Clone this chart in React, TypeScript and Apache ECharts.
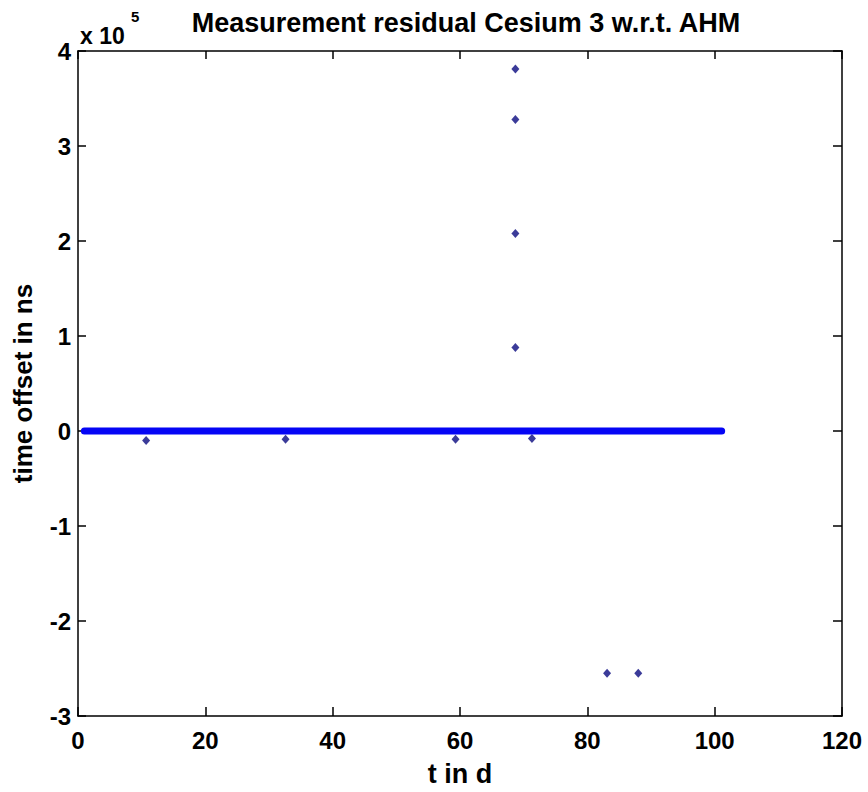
import React, { useEffect, useRef } from "react";
import * as echarts from "echarts";

const titleText = "Measurement residual Cesium 3 w.r.t. AHM";
const xName = "t in d";
const yName = "time offset in ns";
const xTicks = [0, 20, 40, 60, 80, 100, 120];
const yTicks = [-3, -2, -1, 0, 1, 2, 3, 4];
const yScale = 1e5;

// dense band of residuals near zero (drawn as one thick run)
const bandT = [1.0, 101.1];
const bandV = [0, 0];

// outlier residuals
const outT = [10.7, 32.6, 59.3, 68.7, 68.7, 68.7, 68.7, 71.3, 83.1, 88.0];
const outV = [-10000, -8600, -8600, 381000, 328000, 208000, 88000, -8000, -255000, -255000];

const FONT = "Liberation Sans, Arial, sans-serif";

export default function App() {
  const ref = useRef<HTMLDivElement>(null);
  useEffect(() => {
    document.body.style.margin = "0";
    const chart = echarts.init(ref.current!, null, { renderer: "svg" });
    const xMin = xTicks[0];
    const xMax = xTicks[xTicks.length - 1];
    const yMin = yTicks[0] * yScale;
    const yMax = yTicks[yTicks.length - 1] * yScale;
    const axisLine = { show: true, onZero: false, lineStyle: { color: "#000", width: 1.5 } };
    const tickIn = (len: number) => ({ show: true, inside: true, length: len, lineStyle: { color: "#000", width: 1.5 } });
    chart.setOption({
      animation: false,
      backgroundColor: "#ffffff",
      title: {
        text: titleText,
        left: 461,
        top: 4,
        textAlign: "center",
        textStyle: { fontFamily: FONT, fontWeight: "bold", fontSize: 27, color: "#000" },
      },
      graphic: [
        {
          type: "text",
          left: 80,
          top: 24,
          style: { text: "x 10", fontFamily: FONT, fontWeight: "bold", fontSize: 23, fill: "#000" },
        },
        {
          type: "text",
          left: 131,
          top: 9,
          style: { text: "5", fontFamily: FONT, fontWeight: "bold", fontSize: 15, fill: "#000" },
        },
      ],
      grid: { left: 78, right: 26, top: 51, bottom: 67, containLabel: false },
      xAxis: [
        {
          type: "value",
          min: xMin,
          max: xMax,
          interval: 20,
          position: "bottom",
          name: xName,
          nameLocation: "middle",
          nameGap: 44,
          nameTextStyle: { fontFamily: FONT, fontWeight: "bold", fontSize: 27, color: "#000" },
          axisLine,
          axisTick: tickIn(9),
          axisLabel: { margin: 12, fontFamily: FONT, fontWeight: "bold", fontSize: 24, color: "#000" },
          splitLine: { show: false },
        },
        {
          type: "value",
          min: xMin,
          max: xMax,
          interval: 20,
          position: "top",
          axisLine,
          axisTick: tickIn(8),
          axisLabel: { show: false },
          splitLine: { show: false },
        },
      ],
      yAxis: [
        {
          type: "value",
          min: yMin,
          max: yMax,
          interval: yScale,
          position: "left",
          name: yName,
          nameLocation: "middle",
          nameGap: 42,
          nameRotate: 90,
          nameTextStyle: { fontFamily: FONT, fontWeight: "bold", fontSize: 26, color: "#000" },
          axisLine,
          axisTick: tickIn(8),
          axisLabel: {
            margin: 7,
            fontFamily: FONT,
            fontWeight: "bold",
            fontSize: 24,
            color: "#000",
            formatter: (v: number) => String(Math.round(v / yScale)),
          },
          splitLine: { show: false },
        },
        {
          type: "value",
          min: yMin,
          max: yMax,
          interval: yScale,
          position: "right",
          axisLine,
          axisTick: tickIn(9),
          axisLabel: { show: false },
          splitLine: { show: false },
        },
      ],
      series: [
        {
          type: "line",
          xAxisIndex: 0,
          yAxisIndex: 0,
          data: bandT.map((t, i) => [t, bandV[i]]),
          showSymbol: false,
          symbol: "none",
          lineStyle: { color: "#0505f5", width: 7, cap: "round" },
          silent: true,
        },
        {
          type: "scatter",
          xAxisIndex: 0,
          yAxisIndex: 0,
          data: outT.map((t, i) => [t, outV[i]]),
          symbol: "diamond",
          symbolSize: [8, 9],
          itemStyle: { color: "#0a0a80" },
          silent: true,
        },
      ],
    });
    return () => chart.dispose();
  }, []);
  return <div ref={ref} style={{ width: 868, height: 792 }} />;
}
